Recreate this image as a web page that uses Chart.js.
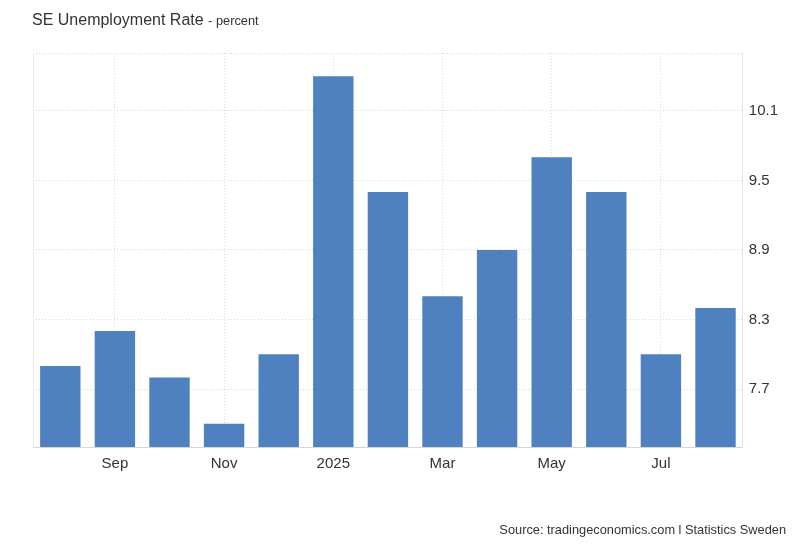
<!DOCTYPE html>
<html>
<head>
<meta charset="utf-8">
<script src="https://cdn.jsdelivr.net/npm/chart.js@4/dist/chart.umd.min.js"></script>
<style>
  html, body { margin: 0; padding: 0; background: #fff; }
  body { width: 800px; height: 547px; position: relative; overflow: hidden; font-family: "Liberation Sans", Arial, sans-serif; }
  #wrap { position: absolute; left: 0; top: 0; width: 800px; height: 547px; }
  #title { position: absolute; left: 32px; top: 11px; color: #333; font-size: 16px; white-space: nowrap; }
  #title span { font-size: 12.8px; }
  #source { position: absolute; right: 14px; top: 522px; color: #333; font-size: 12.8px; white-space: nowrap; }
</style>
</head>
<body>
<div id="wrap"><canvas id="c" width="800" height="547"></canvas></div>
<div id="title">SE Unemployment Rate <span>- percent</span></div>
<div id="source">Source: tradingeconomics.com l Statistics Sweden</div>
<script>
const months = ["Aug 2024","Sep 2024","Oct 2024","Nov 2024","Dec 2024","Jan 2025","Feb 2025","Mar 2025","Apr 2025","May 2025","Jun 2025","Jul 2025","Aug 2025"];
const xTickLabels = ["","Sep","","Nov","","2025","","Mar","","May","","Jul",""];
const rates = [7.9, 8.2, 7.8, 7.4, 8.0, 10.4, 9.4, 8.5, 8.9, 9.7, 9.4, 8.0, 8.4];
const yTicks = [7.7, 8.3, 8.9, 9.5, 10.1];
const yMin = 7.2;
const yMax = 10.6;

const leftEdge = {
  id: 'leftEdge',
  beforeDatasetsDraw(chart) {
    const a = chart.chartArea, c = chart.ctx;
    c.save();
    c.strokeStyle = '#ececec';
    c.lineWidth = 1;
    c.beginPath();
    c.moveTo(a.left + 0.5, a.top);
    c.lineTo(a.left + 0.5, a.bottom);
    c.stroke();
    c.restore();
  }
};

new Chart(document.getElementById('c'), {
  type: 'bar',
  data: {
    labels: months,
    datasets: [{
      data: rates,
      backgroundColor: '#4f81c1',
      borderWidth: 0,
      categoryPercentage: 0.74,
      barPercentage: 1.0
    }]
  },
  plugins: [leftEdge],
  options: {
    responsive: false,
    animation: false,
    devicePixelRatio: 1,
    layout: { padding: { left: 33, top: 53, right: 16, bottom: 66 } },
    plugins: { legend: { display: false }, tooltip: { enabled: false }, title: { display: false } },
    scales: {
      x: {
        offset: true,
        grid: {
          offset: false,
          drawTicks: false,
          color: (ctx) => (xTickLabels[ctx.index] ? '#d9d9d9' : 'rgba(0,0,0,0)'),
          lineWidth: 1
        },
        border: { display: true, color: '#d6d6d6', dash: [1, 2] },
        ticks: {
          autoSkip: false,
          maxRotation: 0,
          padding: 8,
          color: '#333',
          font: { family: '"Liberation Sans", Arial, sans-serif', size: 15 },
          callback: (v, i) => xTickLabels[i]
        }
      },
      y: {
        position: 'right',
        min: yMin,
        max: yMax,
        afterBuildTicks: (axis) => { axis.ticks = yTicks.concat([yMax]).map(v => ({ value: v })); },
        grid: { drawTicks: false, color: '#d9d9d9', lineWidth: 1 },
        border: { display: true, color: '#e3e3e3', dash: [1, 2] },
        ticks: {
          padding: 6,
          color: '#333',
          font: { family: '"Liberation Sans", Arial, sans-serif', size: 15 },
          callback: (v) => (yTicks.includes(v) ? v.toFixed(1) : '')
        }
      }
    }
  }
});
</script>
</body>
</html>
